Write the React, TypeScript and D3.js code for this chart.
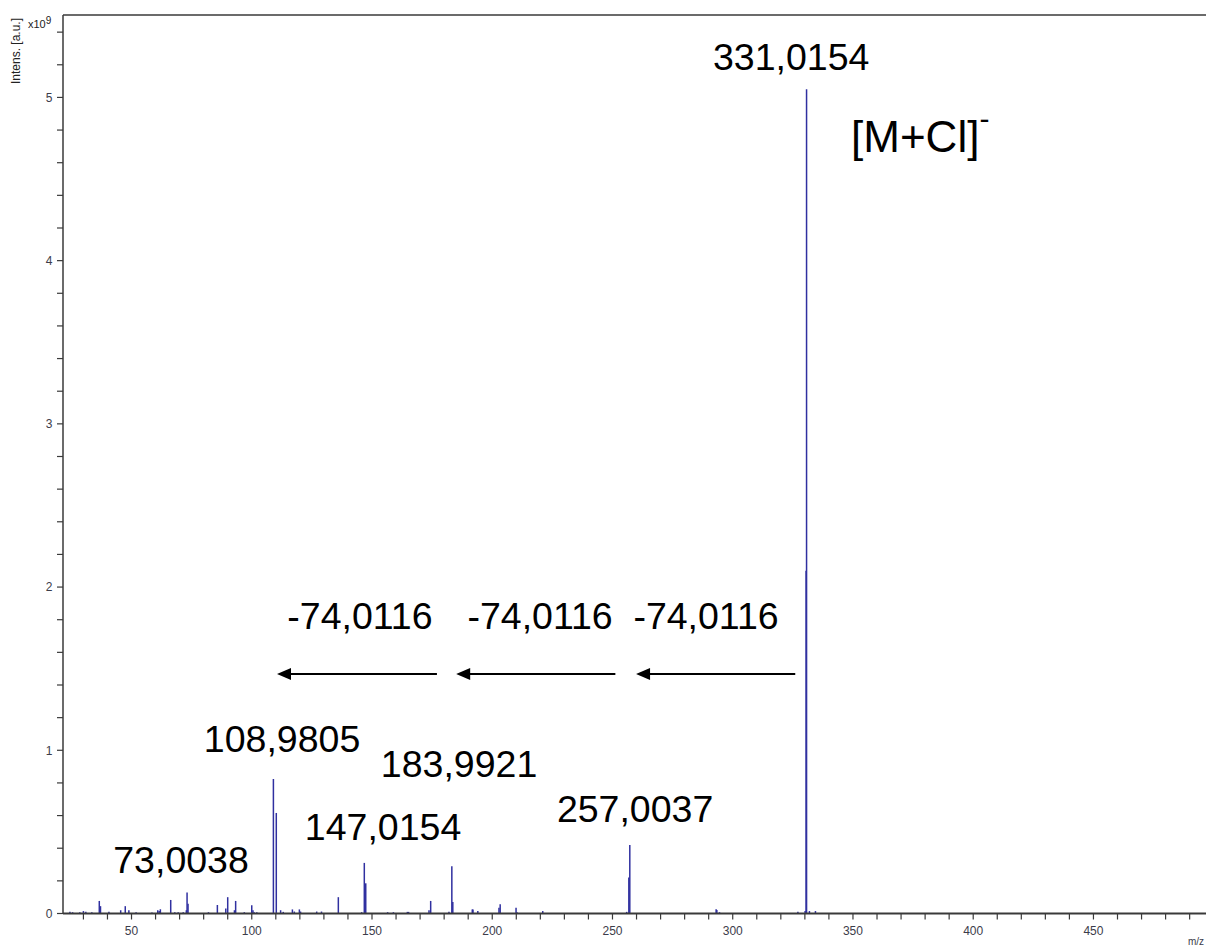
import React from "react";
import * as d3 from "d3";

// m/z values and intensities (x10^9 a.u.) of the stick spectrum
const peakMz = [
  24.4, 25.5, 28.5, 30.0, 31.0, 33.5, 36.6, 37.1, 40.6, 45.5, 47.4, 48.9, 51.9, 58.5, 60.9, 61.5, 62.0,
  66.3, 68.0, 69.4, 71.5, 72.8, 73.1, 73.5, 82.0, 85.7, 89.2, 90.0, 92.8, 93.3, 96.9, 100.0, 100.5,
  101.0, 102.1, 109.0, 110.2, 112.0, 113.1, 116.9, 117.7, 119.8, 120.3, 127.0, 129.0, 136.0, 145.7,
  146.8, 147.4, 156.5, 158.9, 164.7, 165.2, 173.7, 174.4, 182.0, 183.2, 183.6, 191.7, 192.0, 194.0,
  202.8, 203.3, 209.9, 210.3, 221.0, 255.9, 256.8, 257.2, 293.1, 293.4, 294.5, 327.1, 330.1, 330.5,
  330.7, 331.9, 334.4,
];
const peakIntensity = [
  0.01, 0.008, 0.008, 0.015, 0.01, 0.008, 0.077, 0.045, 0.01, 0.02, 0.045, 0.02, 0.008, 0.006, 0.02, 0.015, 0.026,
  0.083, 0.008, 0.008, 0.008, 0.02, 0.128, 0.06, 0.008, 0.052, 0.03, 0.1, 0.02, 0.077, 0.008, 0.05, 0.02,
  0.008, 0.008, 0.824, 0.616, 0.02, 0.01, 0.025, 0.012, 0.025, 0.012, 0.012, 0.012, 0.1, 0.008,
  0.31, 0.185, 0.008, 0.008, 0.01, 0.01, 0.02, 0.077, 0.01, 0.29, 0.07, 0.025, 0.025, 0.015,
  0.035, 0.056, 0.035, 0.008, 0.015, 0.01, 0.22, 0.42, 0.026, 0.022, 0.008, 0.01, 0.015, 2.1,
  5.05, 0.015, 0.015,
];

// peak annotations: text, centre m/z, baseline intensity
const peakLabels = ["331,0154", "108,9805", "183,9921", "147,0154", "257,0037", "73,0038"];
const peakLabelMz = [324.3, 112.6, 186.2, 154.6, 259.4, 70.6];
const peakLabelY = [5.168, 0.99, 0.836, 0.45, 0.561, 0.248];

// neutral-loss arrows: from m/z -> to m/z at an intensity level, with label
const lossText = ["-74,0116", "-74,0116", "-74,0116"];
const lossFrom = [177.0, 251.2, 326.0];
const lossTo = [110.5, 185.0, 259.8];
const lossArrowY = 1.467;
const lossTextMz = [145.0, 219.9, 288.9];
const lossTextY = 1.743;

const ionText = "[M+Cl]";
const ionMz = 349.2;
const ionY = 4.665;

const xDomain = [21.51, 496.8];
const yDomain = [0, 5.505];
const xMajor = [50, 100, 150, 200, 250, 300, 350, 400, 450];
const yMajor = [0, 1, 2, 3, 4, 5];

const FONT = "Arial, 'Liberation Sans', sans-serif";

export default function App() {
  const W = 1206;
  const H = 948;
  const left = 63;
  const right = 1206;
  const top = 15;
  const bottom = 913.5;

  const x = d3.scaleLinear().domain(xDomain).range([left, right]);
  const y = d3.scaleLinear().domain(yDomain).range([bottom, top]);

  const xTicks = d3.range(30, 500, 10);
  const yTicks = d3.range(0, 5.5, 0.2);

  const axisColor = "#3a3a3a";
  const labelColor = "#3c3c4a";
  const peakColor = "#3030a0";

  return (
    <div style={{ position: "absolute", left: 0, top: 0, width: W, height: H, overflow: "hidden" }}>
      <svg width={W} height={H} style={{ display: "block", background: "#fff" }}>
        {/* peaks */}
        <g>
          {peakMz.map((mz, i) => (
            <line
              key={i}
              x1={x(mz)}
              x2={x(mz)}
              y1={y(0)}
              y2={y(peakIntensity[i])}
              stroke={peakColor}
              strokeWidth={1.5}
            />
          ))}
        </g>

        {/* frame */}
        <line x1={left} x2={right} y1={top} y2={top} stroke={axisColor} strokeWidth={1.3} />
        <line x1={left} x2={left} y1={top} y2={bottom} stroke={axisColor} strokeWidth={1.5} />
        <line x1={left} x2={right} y1={bottom} y2={bottom} stroke={axisColor} strokeWidth={2} />

        {/* x ticks */}
        {xTicks.map((t) => (
          <line key={"xt" + t} x1={x(t)} x2={x(t)} y1={bottom} y2={bottom + 6} stroke={axisColor} strokeWidth={1.2} />
        ))}
        {xMajor.map((t) => (
          <text key={"xl" + t} x={x(t)} y={935} textAnchor="middle" fontFamily={FONT} fontSize={12} fill={labelColor}>
            {t}
          </text>
        ))}
        <text x={1204} y={945} textAnchor="end" fontFamily={FONT} fontSize={10} fill={labelColor}>
          m/z
        </text>

        {/* y ticks */}
        {yTicks.map((t, i) => (
          <line key={"yt" + i} x1={left - 6} x2={left} y1={y(t)} y2={y(t)} stroke={axisColor} strokeWidth={1.2} />
        ))}
        {yMajor.map((t) => (
          <text key={"yl" + t} x={52.5} y={y(t) + 4.3} textAnchor="end" fontFamily={FONT} fontSize={12} fill={labelColor}>
            {t}
          </text>
        ))}
        <text
          transform={`translate(19.5,51) rotate(-90)`}
          textAnchor="middle"
          fontFamily={FONT}
          fontSize={12}
          fill="#222"
        >
          Intens. [a.u.]
        </text>
        <text x={28} y={28} fontFamily={FONT} fontSize={11} fill="#222">
          x10
          <tspan dy={-4} fontSize={10}>9</tspan>
        </text>

        {/* peak labels */}
        {peakLabels.map((s, i) => (
          <text
            key={"pl" + i}
            x={x(peakLabelMz[i])}
            y={y(peakLabelY[i])}
            textAnchor="middle"
            fontFamily={FONT}
            fontSize={37.5}
            fill="#000"
          >
            {s}
          </text>
        ))}

        {/* ion label */}
        <text x={x(ionMz)} y={y(ionY)} fontFamily={FONT} fontSize={44} fill="#000">
          {ionText}
          <tspan dy={-23} fontSize={30}>-</tspan>
        </text>

        {/* neutral loss labels */}
        {lossText.map((s, i) => (
          <text
            key={"lt" + i}
            x={x(lossTextMz[i])}
            y={y(lossTextY)}
            textAnchor="middle"
            fontFamily={FONT}
            fontSize={37.5}
            fill="#000"
          >
            {s}
          </text>
        ))}

        {/* arrows */}
        {lossFrom.map((f, i) => {
          const x1 = x(f);
          const x2 = x(lossTo[i]);
          const yy = y(lossArrowY);
          const headLen = 14;
          const headHalf = 6;
          return (
            <g key={"ar" + i}>
              <line x1={x1} x2={x2 + headLen - 2} y1={yy} y2={yy} stroke="#000" strokeWidth={2} />
              <path d={`M${x2},${yy} L${x2 + headLen},${yy - headHalf} L${x2 + headLen},${yy + headHalf} Z`} fill="#000" />
            </g>
          );
        })}
      </svg>
    </div>
  );
}
